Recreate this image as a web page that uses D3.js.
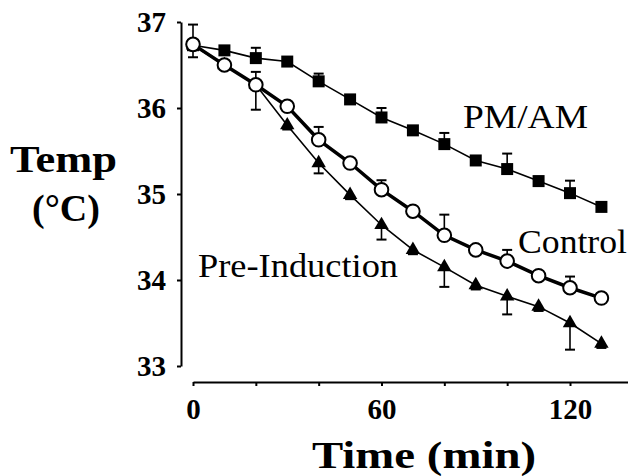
<!DOCTYPE html>
<html>
<head>
<meta charset="utf-8">
<script src="https://cdn.jsdelivr.net/npm/d3@7"></script>
<style>
  body { margin: 0; background: #fff; }
  svg { display: block; }
</style>
</head>
<body>
<div id="chart"></div>
<script>
// Sampling times (min)
var times = [0, 10, 20, 30, 40, 50, 60, 70, 80, 90, 100, 110, 120, 130];

// Control (open circles), error bars drawn upward
var control = [36.74, 36.50, 36.27, 36.02, 35.63, 35.36, 35.05, 34.80, 34.52, 34.35, 34.22, 34.05, 33.91, 33.79];
var controlErr = [0.23, 0.05, 0.15, 0.05, 0.15, 0.05, 0.11, 0.05, 0.24, 0.05, 0.13, 0.05, 0.13, 0.05];

// Pre-Induction (filled triangles), error bars drawn downward
var preInduction = [36.73, 36.50, 36.27, 35.80, 35.36, 34.99, 34.64, 34.35, 34.15, 33.94, 33.81, 33.69, 33.50, 33.26];
var preInductionErr = [0.14, 0.05, 0.29, 0.05, 0.12, 0.05, 0.17, 0.05, 0.23, 0.05, 0.21, 0.05, 0.31, 0.05];

// PM/AM (filled squares), error bars drawn upward
var pmam = [36.73, 36.67, 36.58, 36.54, 36.31, 36.10, 35.89, 35.74, 35.58, 35.39, 35.29, 35.15, 35.01, 34.85];
var pmamErr = [0.05, 0.05, 0.12, 0.05, 0.09, 0.05, 0.11, 0.05, 0.13, 0.05, 0.18, 0.05, 0.145, 0.05];

var yTicks = [33, 34, 35, 36, 37];
var xTicks = [0, 20, 40, 60, 80, 100, 120];
var xLabels = [0, 60, 120];

var width = 628, height = 476;
var serif = "Liberation Serif";

var svg = d3.select("#chart")
    .append("svg")
    .attr("width", width)
    .attr("height", height);

// scales: 0 min sits at x=193, 120 min at x=570
var xScale = d3.scaleLinear()
    .domain([0, (628 - 193) * 120 / 377])
    .range([193, 628]);

var yScale = d3.scaleLinear()
    .domain([33, 37])
    .range([366, 22]);

// y axis (set a little left of the data)
var yAxis = d3.axisLeft(yScale)
    .tickValues(yTicks)
    .tickFormat(d3.format("d"))
    .tickSize(4)
    .tickSizeOuter(0)
    .tickPadding(11);

var gy = svg.append("g")
    .attr("transform", "translate(181,0)")
    .call(yAxis);

// x axis (set below the data)
var xAxis = d3.axisBottom(xScale)
    .tickValues(xTicks)
    .tickFormat(function (d) { return xLabels.indexOf(d) >= 0 ? d : ""; })
    .tickSize(4)
    .tickSizeOuter(0)
    .tickPadding(12);

var gx = svg.append("g")
    .attr("transform", "translate(0,382)")
    .call(xAxis);

[gx, gy].forEach(function (g) {
    g.selectAll("path, line").attr("stroke", "#000").attr("stroke-width", 2);
    g.selectAll("text")
        .attr("fill", "#000")
        .attr("font-family", serif)
        .attr("font-weight", "bold")
        .attr("font-size", 29);
});

// build point tables
function rows(values, errs) {
    return times.map(function (t, i) {
        return { t: t, v: values[i], e: errs[i] };
    });
}
var controlData = rows(control, controlErr);
var preData = rows(preInduction, preInductionErr);
var pmamData = rows(pmam, pmamErr);

var line = d3.line()
    .x(function (d) { return xScale(d.t); })
    .y(function (d) { return yScale(d.v); });

// error bars
function errorBars(data, dir, cls) {
    var g = svg.append("g").attr("class", cls);
    g.selectAll("line.bar")
        .data(data)
        .enter()
        .append("line")
        .attr("x1", function (d) { return xScale(d.t); })
        .attr("x2", function (d) { return xScale(d.t); })
        .attr("y1", function (d) { return yScale(d.v); })
        .attr("y2", function (d) { return yScale(d.v + dir * d.e); })
        .attr("stroke", "#000")
        .attr("stroke-width", 1.6);
    g.selectAll("line.cap")
        .data(data)
        .enter()
        .append("line")
        .attr("x1", function (d) { return xScale(d.t) - 5; })
        .attr("x2", function (d) { return xScale(d.t) + 5; })
        .attr("y1", function (d) { return yScale(d.v + dir * d.e); })
        .attr("y2", function (d) { return yScale(d.v + dir * d.e); })
        .attr("stroke", "#000")
        .attr("stroke-width", 2);
}

errorBars(pmamData, 1, "err-pmam");
errorBars(preData, -1, "err-pre");
errorBars(controlData, 1, "err-control");

// lines
svg.append("path")
    .datum(pmamData)
    .attr("d", line)
    .attr("fill", "none")
    .attr("stroke", "#000")
    .attr("stroke-width", 1.6);

svg.append("path")
    .datum(preData)
    .attr("d", line)
    .attr("fill", "none")
    .attr("stroke", "#000")
    .attr("stroke-width", 1.6);

svg.append("path")
    .datum(controlData)
    .attr("d", line)
    .attr("fill", "none")
    .attr("stroke", "#000")
    .attr("stroke-width", 3.5);

// markers
svg.append("g")
    .selectAll("path")
    .data(pmamData)
    .enter()
    .append("path")
    .attr("d", d3.symbol().type(d3.symbolSquare).size(144))
    .attr("transform", function (d) { return "translate(" + xScale(d.t) + "," + yScale(d.v) + ")"; })
    .attr("fill", "#000");

svg.append("g")
    .selectAll("path")
    .data(preData)
    .enter()
    .append("path")
    .attr("d", d3.symbol().type(d3.symbolTriangle).size(90))
    .attr("transform", function (d) { return "translate(" + xScale(d.t) + "," + yScale(d.v) + ")"; })
    .attr("fill", "#000");

svg.append("g")
    .selectAll("circle")
    .data(controlData)
    .enter()
    .append("circle")
    .attr("cx", function (d) { return xScale(d.t); })
    .attr("cy", function (d) { return yScale(d.v); })
    .attr("r", 6.8)
    .attr("fill", "#fff")
    .attr("stroke", "#000")
    .attr("stroke-width", 2);

// text labels
function label(txt, x, y, size, weight, len) {
    svg.append("text")
        .attr("x", x)
        .attr("y", y)
        .attr("text-anchor", "middle")
        .attr("textLength", len)
        .attr("lengthAdjust", "spacingAndGlyphs")
        .attr("font-family", serif)
        .attr("font-size", size)
        .attr("font-weight", weight)
        .text(txt);
}

label("Temp", 63.5, 172, 37, "bold", 107);
label("(°C)", 66, 221, 37, "bold", 68);
label("Time (min)", 424, 468, 37, "bold", 224);
label("PM/AM", 525.5, 128, 33, "normal", 125);
label("Control", 572.5, 253, 33, "normal", 109);
label("Pre-Induction", 298, 277, 33, "normal", 200);
</script>
</body>
</html>
